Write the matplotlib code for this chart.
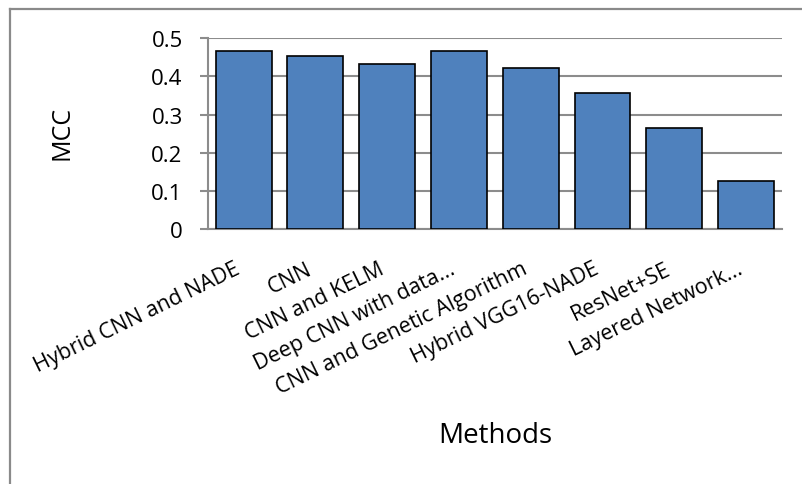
"""
MCC by method — bar chart, Excel style.
"""

import matplotlib

matplotlib.use("Agg")
import matplotlib.pyplot as plt
from matplotlib.lines import Line2D

plt.rcParams["font.family"] = ["Open Sans", "DejaVu Sans"]

METHODS = [
    "Hybrid CNN and NADE",
    "CNN",
    "CNN and KELM",
    "Deep CNN with data...",
    "CNN and Genetic Algorithm",
    "Hybrid VGG16-NADE",
    "ResNet+SE",
    "Layered Network...",
]
MCC = [0.466, 0.454, 0.433, 0.466, 0.421, 0.357, 0.265, 0.125]

GRID = "#8c8c8c"

fig = plt.figure(figsize=(8.02, 4.85), dpi=100)
ax = fig.add_axes([0.259, 0.526, 0.716, 0.393])

x = range(len(METHODS))
ax.bar(x, MCC, width=0.78, color="#4f81bd", edgecolor="black", linewidth=1.2, zorder=3)

ax.set_xlim(-0.5, len(METHODS) - 0.5)
ax.set_ylim(0, 0.5)
ax.set_yticks([0, 0.1, 0.2, 0.3, 0.4, 0.5])
ax.set_yticklabels(["0", "0.1", "0.2", "0.3", "0.4", "0.5"])
ax.yaxis.grid(True, color=GRID, linewidth=1.5, zorder=0)
ax.set_axisbelow(True)

ax.set_xticks(list(x))
ax.set_xticklabels(METHODS, rotation=26, ha="right", fontsize=15.5)
ax.tick_params(axis="x", length=0, pad=21)
ax.tick_params(axis="y", length=6, width=1.5, color=GRID, pad=12, labelsize=16)

for side in ("top", "right"):
    ax.spines[side].set_visible(False)
for side in ("left", "bottom"):
    ax.spines[side].set_color(GRID)
    ax.spines[side].set_linewidth(1.5)

fig.text(62 / 802, 1 - 133 / 485, "MCC", fontsize=18, rotation=90, ha="center", va="center")
fig.text(495 / 802, 1 - 436 / 485, "Methods", fontsize=20, ha="center", va="center")

# outer chart frame (top and left edges only visible)
bx, by = 10 / 802, 1 - 10 / 485
fig.add_artist(Line2D([bx, 1.0], [by, by], color="#8a8a8a", linewidth=1.6, transform=fig.transFigure))
fig.add_artist(Line2D([bx, bx], [by, 0.0], color="#8a8a8a", linewidth=1.6, transform=fig.transFigure))

fig.savefig("out.png", dpi=100, facecolor="white")
plt.close(fig)
